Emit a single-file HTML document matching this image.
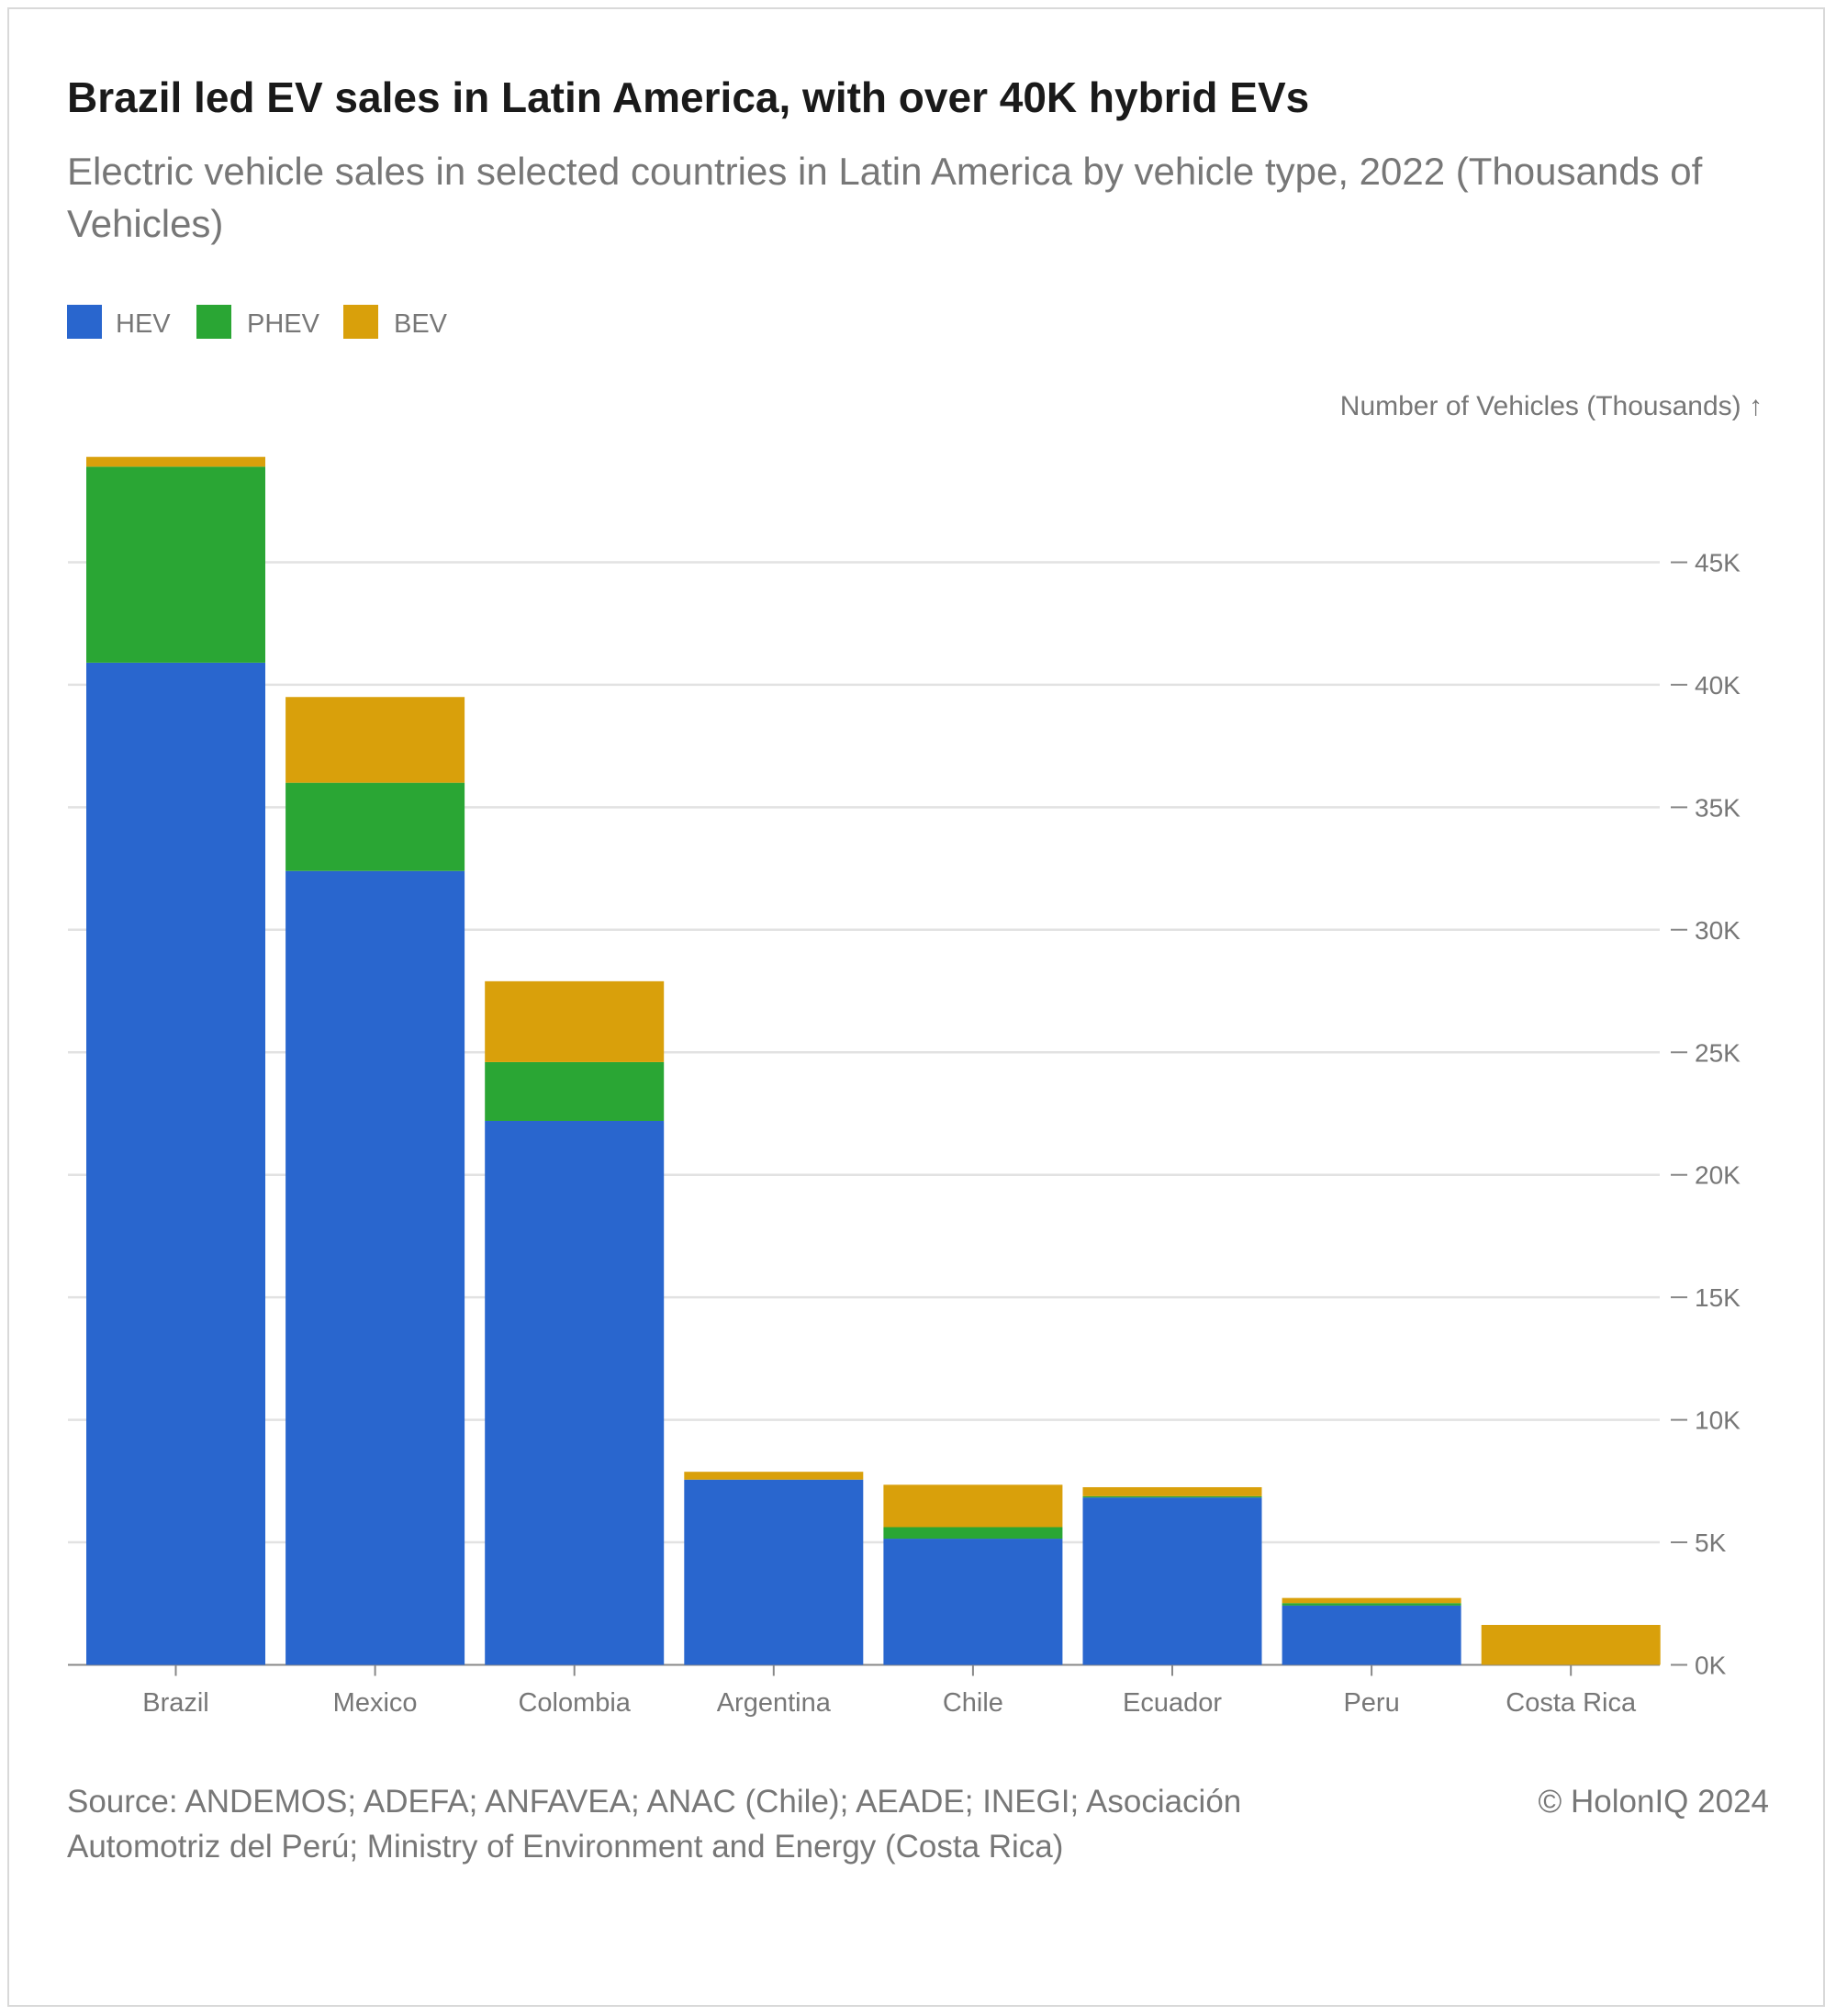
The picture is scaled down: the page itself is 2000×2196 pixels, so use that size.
<!DOCTYPE html>
<html><head><meta charset="utf-8">
<style>
body{margin:0;background:#fff;font-family:"Liberation Sans",sans-serif;}
#frame{position:absolute;left:8px;top:8px;width:1980px;height:2178px;border:2px solid #d9d9d9;box-sizing:border-box;}
.t{position:absolute;white-space:nowrap;}
</style></head><body>
<div id="frame"></div>
<div class="t" style="left:73px;top:79px;font-size:46px;font-weight:bold;color:#1a1a1a;">Brazil led EV sales in Latin America, with over 40K hybrid EVs</div>
<div class="t" style="left:73px;top:158px;font-size:42px;line-height:57px;color:#777;">Electric vehicle sales in selected countries in Latin America by vehicle type, 2022 (Thousands of<br>Vehicles)</div>
<svg width="2000" height="2196" style="position:absolute;left:0;top:0" id="chart">
<g>
<rect x="73" y="332" width="38" height="37" fill="#2966CE"/>
<text x="126" y="362" font-size="29" fill="#777">HEV</text>
<rect x="214" y="332" width="38" height="37" fill="#2AA634"/>
<text x="269" y="362" font-size="29" fill="#777">PHEV</text>
<rect x="374" y="332" width="38" height="37" fill="#D9A00B"/>
<text x="429" y="362" font-size="29" fill="#777">BEV</text>
</g>
<text x="1920" y="452" font-size="30" fill="#777" text-anchor="end">Number of Vehicles (Thousands) ↑</text>
<g id="grid"></g><g id="bars"></g><g id="xl"></g>
</svg>
<div class="t" style="left:73px;top:1938px;font-size:35px;line-height:49px;color:#777;">Source: ANDEMOS; ADEFA; ANFAVEA; ANAC (Chile); AEADE; INEGI; Asociación<br>Automotriz del Perú; Ministry of Environment and Energy (Costa Rica)</div>
<div class="t" style="right:73px;top:1938px;font-size:35px;line-height:49px;color:#777;">© HolonIQ 2024</div>
<script>
const categories=["Brazil","Mexico","Colombia","Argentina","Chile","Ecuador","Peru","Costa Rica"];
const hev=[40.9,32.4,22.2,7.56,5.15,6.83,2.42,0];
const phev=[8.0,3.6,2.4,0,0.47,0.05,0.1,0];
const bev=[0.4,3.5,3.3,0.32,1.73,0.37,0.21,1.63];
const ticks=[0,5,10,15,20,25,30,35,40,45];
const ns="http://www.w3.org/2000/svg";
const y0=1813.5,k=26.69,x0=94,step=217.1,bw=195;
const y=v=>y0-v*k;
function mk(t,a,p){const e=document.createElementNS(ns,t);for(const n in a)e.setAttribute(n,a[n]);p.appendChild(e);return e;}
const grid=document.getElementById('grid'),bars=document.getElementById('bars'),xl=document.getElementById('xl');
ticks.forEach(v=>{
 const l=mk('line',{x1:74,x2:1808,y1:y(v),y2:y(v),stroke:v===0?'#888':'#e2e2e2','stroke-width':v===0?2:2.5},grid);
 
 
 const tk=mk('line',{x1:1820,x2:1838,y1:y(v),y2:y(v),stroke:'#888','stroke-width':2},grid);
 
 
 const t=mk('text',{x:1846,y:y(v)+10,'font-size':28,fill:'#777'},grid);t.textContent=v+'K';
 
 
});
categories.forEach((c,i)=>{
 const x=x0+i*step;let base=0;
 [[hev,'#2966CE','hev'],[phev,'#2AA634','phev'],[bev,'#D9A00B','bev']].forEach(([arr,col,nm])=>{
  const v=arr[i];if(v>0){const r=mk('rect',{x:x,y:y(base+v),width:bw,height:v*k,fill:col},bars);
  
  }
  base+=v;});
 const tk=mk('line',{x1:x+bw/2,x2:x+bw/2,y1:y0,y2:y0+12,stroke:'#888','stroke-width':2},xl);
 
 
 const t=mk('text',{x:x+bw/2,y:1864,'font-size':29,fill:'#777','text-anchor':'middle'},xl);t.textContent=c;
 
 
});
</script>
</body></html>
